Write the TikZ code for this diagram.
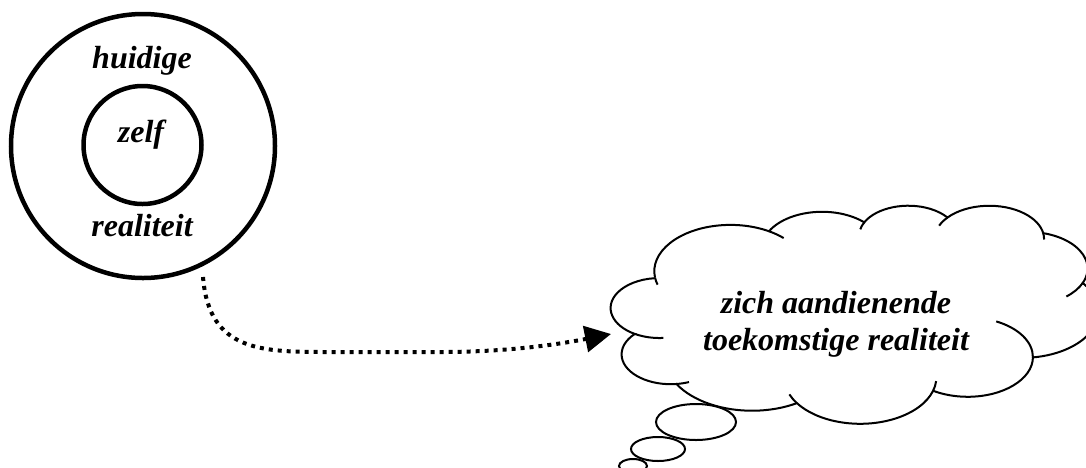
\documentclass[tikz,border=0pt]{standalone}
\usepackage{fontspec}
\setmainfont{Liberation Serif}
\usetikzlibrary{arrows.meta}
\newcommand\cldarc[5]{%
  \pgfmathsetmacro\cldtmpa{atan2((#2)*sin(#4),(#3)*cos(#4))}%
  \pgfmathsetmacro\cldtmpb{atan2((#2)*sin((#4)+(#5)),(#3)*cos((#4)+(#5)))}%
  \pgfmathsetmacro\cldtmpd{mod(\cldtmpb-\cldtmpa+720,360)}%
  \ifdim #5pt<0pt \pgfmathsetmacro\cldtmpd{\cldtmpd-360}\fi
  \expandafter\xdef\csname arcT#1\endcsname{\cldtmpa}%
  \expandafter\xdef\csname arcD#1\endcsname{\cldtmpd}%
}
% main outline arcs (wR, hR, start angle, sweep)
\cldarc{a}{67.53}{91.90}{-190.4875}{123.7805}
\cldarc{b}{53.33}{72.67}{-144.1024}{89.9452}
\cldarc{c}{43.65}{59.45}{-145.8079}{99.7230}
\cldarc{d}{48.57}{65.95}{-130.9861}{117.2417}
\cldarc{e}{53.33}{72.73}{-78.7089}{109.0269}
\cldarc{f}{67.75}{92.20}{-46.2673}{130.2690}
\cldarc{g}{57.85}{78.67}{0.6250}{114.0333}
\cldarc{h}{67.52}{92.15}{22.4516}{115.1726}
\cldarc{i}{77.20}{105.43}{66.2426}{75.7110}
\cldarc{j}{43.60}{59.18}{-274.9421}{146.7356}
\cldarc{k}{43.45}{59.45}{-246.8285}{152.5189}
% inner stubs
\cldarc{sa}{43.45}{59.45}{-246.8285}{-26.4295}
\cldarc{sb}{43.60}{59.18}{-274.9421}{-11.4475}
\cldarc{sc}{67.52}{92.15}{137.6242}{14.0811}
\cldarc{sd}{67.52}{92.15}{22.4516}{-15.9984}
\cldarc{se}{57.85}{78.67}{0.6250}{-70.9174}
\cldarc{sf}{53.33}{72.73}{30.3180}{27.7515}
\cldarc{sg}{48.57}{65.95}{-13.7444}{14.8589}
\cldarc{sh}{48.57}{65.95}{-130.9861}{-18.1954}
\cldarc{si}{43.65}{59.45}{-145.8079}{-17.6864}
\cldarc{sj}{67.53}{91.90}{-66.7070}{12.3194}
\cldarc{sk}{67.53}{91.90}{-190.4875}{-11.8582}
\tikzset{
  ring/.style={circle, draw, line width=4.5pt, inner sep=0pt},
  lbl/.style={font=\fontsize{32}{37}\selectfont\bfseries\itshape, inner sep=0pt},
  cloudline/.style={line width=2pt},
  bubble/.style={line width=2pt},
  dotline/.style={line width=4pt, dash pattern=on 4pt off 5pt,
    -{Triangle[length=26pt,width=26pt]}},
}
\begin{document}
\begin{tikzpicture}[x=1pt,y=-1pt]
\useasboundingbox (0,0) rectangle (1086,467);
% rings
\node[ring, minimum size=264pt] (outer) at (143,146) {};
\node[ring, minimum size=118pt] (inner) at (142.5,145) {};
\node[lbl, anchor=base] (huidige) at (142,68) {huidige};
\node[lbl, anchor=base] (zelf) at (141,142) {zelf};
\node[lbl, anchor=base] (realiteit) at (142,236) {realiteit};
% cloud
\begin{scope}[shift={(611,205)}, x=1.128pt, y=-0.5046pt]
\draw[cloudline] (39,143.7) coordinate (c0)
  arc[start angle=\arcTa, delta angle=\arcDa, x radius=67.53, y radius=91.90] coordinate (c1)
  arc[start angle=\arcTb, delta angle=\arcDb, x radius=53.33, y radius=72.67] coordinate (c2)
  arc[start angle=\arcTc, delta angle=\arcDc, x radius=43.65, y radius=59.45] coordinate (c3)
  arc[start angle=\arcTd, delta angle=\arcDd, x radius=48.57, y radius=65.95] coordinate (c4)
  arc[start angle=\arcTe, delta angle=\arcDe, x radius=53.33, y radius=72.73] coordinate (c5)
  arc[start angle=\arcTf, delta angle=\arcDf, x radius=67.75, y radius=92.20] coordinate (c6)
  arc[start angle=\arcTg, delta angle=\arcDg, x radius=57.85, y radius=78.67] coordinate (c7)
  arc[start angle=\arcTh, delta angle=\arcDh, x radius=67.52, y radius=92.15] coordinate (c8)
  arc[start angle=\arcTi, delta angle=\arcDi, x radius=77.20, y radius=105.43] coordinate (c9)
  arc[start angle=\arcTj, delta angle=\arcDj, x radius=43.60, y radius=59.18] coordinate (c10)
  arc[start angle=\arcTk, delta angle=\arcDk, x radius=43.45, y radius=59.45] coordinate (c11);
\draw[cloudline] (c10) arc[start angle=\arcTsa, delta angle=\arcDsa, x radius=43.45, y radius=59.45];
\draw[cloudline] (c9) arc[start angle=\arcTsb, delta angle=\arcDsb, x radius=43.60, y radius=59.18];
\draw[cloudline] (c8) arc[start angle=\arcTsc, delta angle=\arcDsc, x radius=67.52, y radius=92.15];
\draw[cloudline] (c7) arc[start angle=\arcTsd, delta angle=\arcDsd, x radius=67.52, y radius=92.15];
\draw[cloudline] (c6) arc[start angle=\arcTse, delta angle=\arcDse, x radius=57.85, y radius=78.67];
\draw[cloudline] (c5) arc[start angle=\arcTsf, delta angle=\arcDsf, x radius=53.33, y radius=72.73];
\draw[cloudline] (c4) arc[start angle=\arcTsg, delta angle=\arcDsg, x radius=48.57, y radius=65.95];
\draw[cloudline] (c3) arc[start angle=\arcTsh, delta angle=\arcDsh, x radius=48.57, y radius=65.95];
\draw[cloudline] (c2) arc[start angle=\arcTsi, delta angle=\arcDsi, x radius=43.65, y radius=59.45];
\draw[cloudline] (c1) arc[start angle=\arcTsj, delta angle=\arcDsj, x radius=67.53, y radius=91.90];
\draw[cloudline] (c0) arc[start angle=\arcTsk, delta angle=\arcDsk, x radius=67.53, y radius=91.90];
\end{scope}
\node[lbl, align=center] (cloud) at (836,324) {zich aandienende\\toekomstige realiteit};
% thought bubbles
\draw[bubble] (696,422) ellipse [x radius=40, y radius=18];
\draw[bubble] (658,449) ellipse [x radius=27, y radius=12];
\draw[bubble] (633,466) ellipse [x radius=14, y radius=7];
% dotted connector
\coordinate (start) at (203,277);
\coordinate (tip) at (611,334);
\draw[dotline] (start) .. controls (209,352) and (262,352) .. (330,352) -- (440,352)
  .. controls (505,352) and (555,345) .. (tip);
\end{tikzpicture}
\end{document}
